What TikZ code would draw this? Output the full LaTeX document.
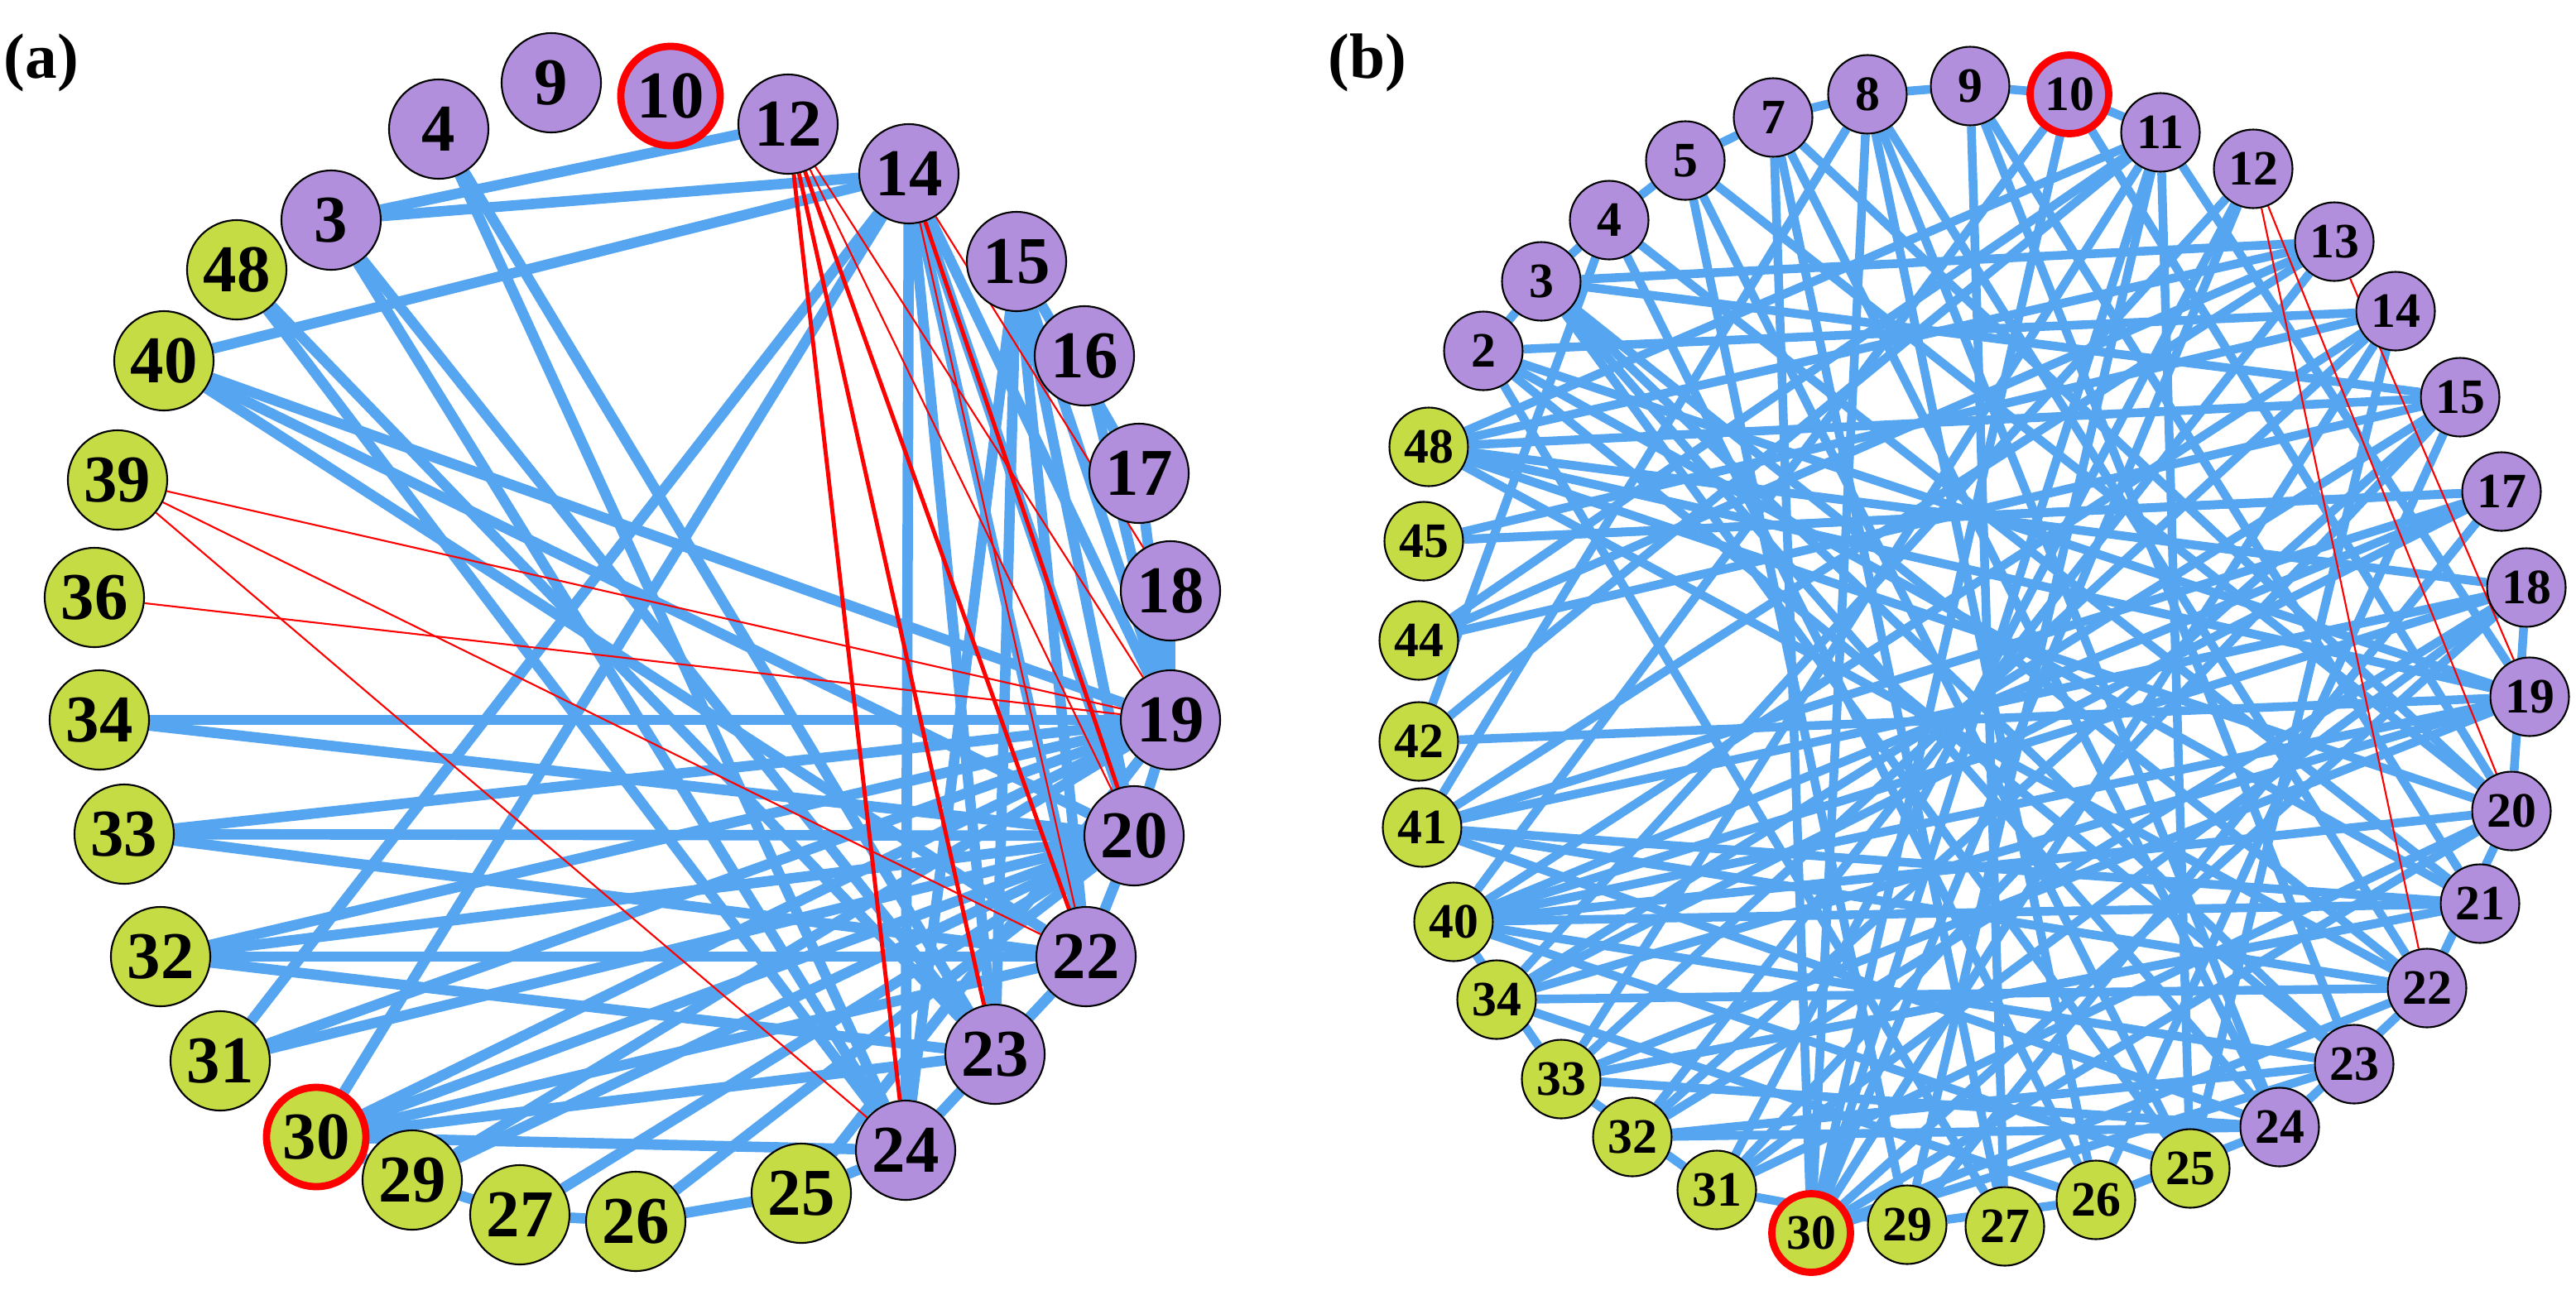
\documentclass[tikz,border=0pt]{standalone}
\usepackage{fontspec}
\setmainfont{Liberation Serif}
\usetikzlibrary{backgrounds}
\definecolor{pur}{HTML}{B28FDD}
\definecolor{grn}{HTML}{C6DC45}
\definecolor{blu}{HTML}{55A5F0}
\begin{document}
\begin{tikzpicture}[x=0.02cm,y=-0.02cm,
 na/.style={circle,draw=black,line width=0.6pt,minimum size=1.2cm,inner sep=0pt,font=\bfseries\fontsize{23}{23}\selectfont},
 nb/.style={circle,draw=black,line width=0.6pt,minimum size=0.95cm,inner sep=0pt,font=\bfseries\fontsize{17}{17}\selectfont},
 P/.style={fill=pur},G/.style={fill=grn},
 R/.style={draw=red,line width=2.5pt},
 be/.style={draw=blu,line width=3.6pt},
 re/.style={draw=red,line width=0.6pt},
 rt/.style={draw=red,line width=1.4pt}]
\useasboundingbox (0,0) rectangle (1556,785);
\node[font=\bfseries\fontsize{22}{22}\selectfont] (la) at (25,38) {(a)};
\node[font=\bfseries\fontsize{22}{22}\selectfont] (lb) at (826,38) {(b)};
% panel a
\foreach \n/\x/\y/\s in {9/333/50/P,10/405/58/P,12/476/75/P,14/549/105/P,4/265/78/P,3/200/133/P,15/614/158/P,16/655/215/P,17/688/286/P,18/707/357/P,19/707/435/P,20/685/505/P,22/656/578/P,23/601/637/P,24/547/695/P,
48/143/163/G,40/99/218/G,39/71/290/G,36/57/361/G,34/60/435/G,33/75/504/G,32/97/578/G,31/133/641/G,30/191/687/G,29/249/713/G,27/314/734/G,26/384/738/G,25/484/721/G}
 \node[na,\s] (a\n) at (\x,\y) {\n};
\node[na,G,R] at (a30) {30};
\node[na,P,R] at (a10) {10};
\begin{scope}[on background layer]
\foreach \u/\v in {3/14,3/12,40/14,3/24,3/23,4/23,4/24,48/23,40/19,40/20,40/22,34/19,33/19,33/20,33/22,32/19,32/20,32/22,32/23,31/14,31/19,30/14,30/19,30/20,30/22,30/23,30/24,29/19,29/20,27/20,26/20,25/19,14/20,14/22,14/24,14/23,15/19,15/20,15/22,15/24,15/23,16/19,17/19,18/19,19/20,20/22,22/24,24/25,25/26,26/27,27/29,29/30,14/19,15/17,48/24,34/20,31/20}
 \path[be] (a\u) -- (a\v);
\foreach \u/\v in {12/23,12/24,12/22,14/20}
 \path[rt] (a\u) -- (a\v);
\foreach \u/\v in {39/19,39/22,39/24,36/19,12/19,12/20,14/18,14/22}
 \path[re] (a\u) -- (a\v);
\end{scope}
% panel b
\foreach \n/\x/\y/\s in {7/1071/71/P,8/1128/57/P,9/1190/52/P,10/1250/57/P,11/1305/80/P,12/1361/102/P,13/1410/146/P,14/1447/188/P,15/1486/240/P,17/1511/297/P,18/1526/355/P,19/1528/421/P,20/1517/490/P,21/1498/546/P,22/1466/597/P,23/1422/643/P,24/1377/681/P,2/896/212/P,3/931/170/P,4/972/133/P,5/1018/97/P,
25/1323/706/G,26/1266/725/G,27/1211/741/G,29/1152/740/G,30/1094/745/G,31/1037/719/G,32/986/687/G,33/943/652/G,34/904/604/G,40/878/557/G,41/859/500/G,42/857/448/G,44/857/387/G,45/860/327/G,48/863/270/G}
 \node[nb,\s] (b\n) at (\x,\y) {\n};
\node[nb,G,R] at (b30) {30};
\node[nb,P,R] at (b10) {10};
\begin{scope}[on background layer]
\foreach \u/\v in {7/8,8/9,9/10,10/11,2/3,3/4,4/5,5/7,
8/26,8/30,8/24,8/22,8/41,9/23,9/27,9/21,10/30,10/40,10/20,11/30,11/33,11/42,11/48,11/25,11/19,12/30,12/34,13/3,13/41,13/48,14/30,14/2,14/40,15/3,15/31,15/44,15/32,17/29,17/40,17/45,18/32,18/41,18/30,19/33,19/48,19/34,20/40,20/30,20/31,21/41,21/2,21/33,22/34,22/48,22/30,23/32,23/40,23/3,24/33,24/7,24/41,25/3,25/5,25/40,26/4,26/34,27/7,27/2,29/5,29/11,31/12,32/13,33/14,34/15,34/17,40/18,40/19,41/17,42/4,44/13,45/14,48/18,48/20,2/19,3/22,4/21,5/20,7/30,7/20,3/24,2/23,45/17,44/11,48/15,42/19,41/22,40/21,32/24,33/21,31/18,30/23,29/17,26/15,25/14,18/20,20/22,22/24,24/26,26/29,29/31,31/33,33/40}
 \path[be,line width=3pt] (b\u) -- (b\v);
\foreach \u/\v in {12/22,12/20,13/19}
 \path[re] (b\u) -- (b\v);
\end{scope}
\end{tikzpicture}
\end{document}
